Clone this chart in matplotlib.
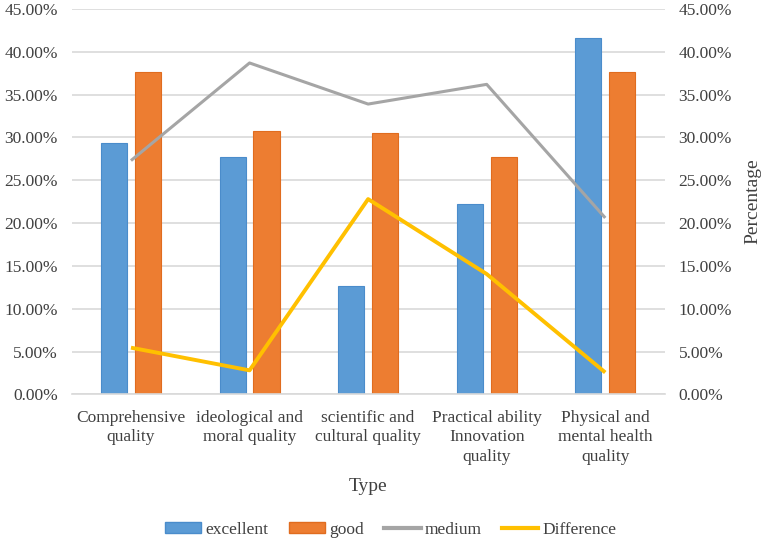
import numpy as np
import matplotlib.pyplot as plt
from matplotlib.ticker import PercentFormatter, MultipleLocator
from matplotlib.patches import Patch
from matplotlib.lines import Line2D

plt.rcParams['font.family'] = ['Liberation Serif', 'DejaVu Serif']

categories = ["Comprehensive\nquality", "ideological and\nmoral quality", "scientific and\ncultural quality",
              "Practical ability\nInnovation\nquality", "Physical and\nmental health\nquality"]
excellent = [29.4, 27.7, 12.7, 22.2, 41.6]
good = [37.7, 30.7, 30.5, 27.7, 37.6]
medium = [27.3, 38.7, 33.9, 36.2, 20.6]
difference = [5.45, 2.8, 22.8, 14.05, 2.55]

c_exc = '#5B9BD5'
c_good = '#ED7D31'
c_med = '#A5A5A5'
c_diff = '#FFC000'
txt = '#404040'

fig = plt.figure(figsize=(7.65, 5.43), dpi=100)
ax = fig.add_axes([0.0937, 0.2738, 0.775, 0.7096])

x = np.arange(len(categories))
w = 0.22
off = 0.143
ax.bar(x - off, excellent, w, color=c_exc, edgecolor='#4A8CCB', linewidth=0.8, zorder=2)
ax.bar(x + off, good, w, color=c_good, edgecolor='#E06C1F', linewidth=0.8, zorder=2)

ax.set_xlim(-0.5, len(categories) - 0.5)
ax.set_ylim(0, 45)
ax.yaxis.set_major_locator(MultipleLocator(5))
ax.yaxis.set_major_formatter(PercentFormatter(100, decimals=2))
ax.grid(axis='y', color='#D9D9D9', linewidth=1.2, zorder=0)
ax.set_axisbelow(True)
for s in ['top', 'left', 'right']:
    ax.spines[s].set_visible(False)
ax.spines['bottom'].set_color('#D9D9D9')
ax.spines['bottom'].set_linewidth(1.2)
ax.tick_params(axis='both', length=0, labelsize=12.5, colors=txt)
ax.set_xticks(x)
ax.set_xticklabels(categories, fontsize=12.5, color=txt, linespacing=1.32)
ax.tick_params(axis='x', pad=11)
ax.tick_params(axis='y', pad=10)
ax.set_xlabel('Type', fontsize=14, color=txt, labelpad=9)

ax2 = ax.twinx()
ax2.plot(x, medium, color=c_med, linewidth=2.2, solid_capstyle='butt', zorder=3)
ax2.plot(x, difference, color=c_diff, linewidth=2.8, solid_capstyle='butt', zorder=3)
ax2.set_ylim(0, 45)
ax2.yaxis.set_major_locator(MultipleLocator(5))
ax2.yaxis.set_major_formatter(PercentFormatter(100, decimals=2))
for s in ax2.spines.values():
    s.set_visible(False)
ax2.tick_params(axis='y', length=0, labelsize=12.5, colors=txt, pad=10)
ax2.set_ylabel('Percentage', fontsize=14, color=txt, labelpad=9)

handles = [Patch(facecolor=c_exc, edgecolor='#4A8CCB'),
           Patch(facecolor=c_good, edgecolor='#E06C1F'),
           Line2D([0], [0], color=c_med, linewidth=3),
           Line2D([0], [0], color=c_diff, linewidth=3)]
fig.legend(handles, ['excellent', 'good', 'medium', 'Difference'], loc='center',
           bbox_to_anchor=(0.511, 0.024), ncol=4, frameon=False, fontsize=12.5,
           handlelength=2.1, handleheight=0.6, handletextpad=0.25, columnspacing=1.15,
           labelcolor=txt)

fig.savefig('out.png', dpi=100)
